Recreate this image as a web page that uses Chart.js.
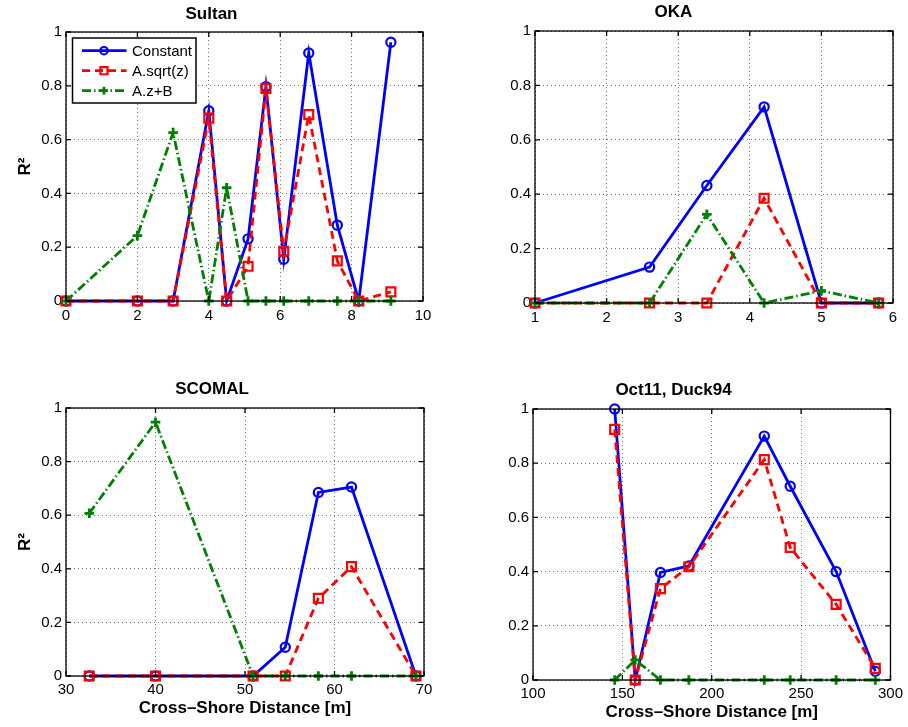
<!DOCTYPE html>
<html>
<head>
<meta charset="utf-8">
<script src="https://cdn.jsdelivr.net/npm/chart.js@4/dist/chart.umd.min.js"></script>
<style>
  body { margin: 0; background: #fff; }
  .panel { position: absolute; }
</style>
</head>
<body>
<div class="panel" style="left:0px;top:0px;width:454px;height:330px"><canvas id="sultan"></canvas></div>
<div class="panel" style="left:454px;top:0px;width:454px;height:330px"><canvas id="oka"></canvas></div>
<div class="panel" style="left:0px;top:360px;width:454px;height:367px"><canvas id="scomal"></canvas></div>
<div class="panel" style="left:454px;top:360px;width:454px;height:367px"><canvas id="duck"></canvas></div>
<script>
// series names
const seriesNames = ['Constant', 'A.sqrt(z)', 'A.z+B'];

// Sultan
const sultanX = [0, 2, 3, 4, 4.5, 5.1, 5.6, 6.1, 6.8, 7.6, 8.2, 9.1];
const sultanConst = [0, 0, 0, 0.707, 0, 0.231, 0.797, 0.155, 0.922, 0.282, 0, 0.962];
const sultanSqrt = [0, 0, 0, 0.68, 0, 0.129, 0.79, 0.185, 0.693, 0.149, 0, 0.034];
const sultanLin = [0, 0.243, 0.626, 0, 0.421, 0, 0, 0, 0, 0, 0, 0];
const sultanTicks = [0, 2, 4, 6, 8, 10];

// OKA
const okaX = [1, 2.6, 3.4, 4.2, 5.0, 5.8];
const okaConst = [0, 0.132, 0.432, 0.721, 0, 0];
const okaSqrt = [0, 0, 0, 0.385, 0, 0];
const okaLin = [0, 0, 0.326, 0, 0.045, 0];
const okaTicks = [1, 2, 3, 4, 5, 6];

// SCOMAL
const scomalX = [32.6, 40, 50.9, 54.5, 58.2, 61.9, 69.1];
const scomalConst = [0, 0, 0, 0.107, 0.685, 0.705, 0];
const scomalSqrt = [0, 0, 0, 0, 0.29, 0.408, 0];
const scomalLin = [0.607, 0.947, 0, 0, 0, 0, 0];
const scomalTicks = [30, 40, 50, 60, 70];

// Oct11, Duck94
const duckX = [145.7, 157.2, 171.3, 187.2, 229.4, 243.9, 269.6, 291.5];
const duckConst = [1.0, 0, 0.397, 0.421, 0.90, 0.715, 0.40, 0.032];
const duckSqrt = [0.925, 0, 0.337, 0.418, 0.813, 0.489, 0.279, 0.043];
const duckLin = [0, 0.074, 0, 0, 0, 0, 0, 0];
const duckTicks = [100, 150, 200, 250, 300];

const yTicks = [0, 0.2, 0.4, 0.6, 0.8, 1];

Chart.defaults.font.family = "'Liberation Sans', Arial, sans-serif";
Chart.defaults.font.size = 15;
Chart.defaults.color = '#000';

function pts(xs, ys) {
    return xs.map((x, i) => ({ x: x, y: ys[i] }));
}

// matlab-like axes box + inward ticks
const boxPlugin = {
    id: 'box',
    afterDatasetsDraw(chart) {
        const a = chart.chartArea;
        const ctx = chart.ctx;
        ctx.save();
        ctx.strokeStyle = '#000';
        ctx.lineWidth = 1.3;
        ctx.setLineDash([]);
        ctx.beginPath();
        chart.scales.x.ticks.forEach(t => {
            const px = chart.scales.x.getPixelForValue(t.value);
            ctx.moveTo(px, a.bottom); ctx.lineTo(px, a.bottom - 5);
            ctx.moveTo(px, a.top); ctx.lineTo(px, a.top + 5);
        });
        chart.scales.y.ticks.forEach(t => {
            const py = chart.scales.y.getPixelForValue(t.value);
            ctx.moveTo(a.left, py); ctx.lineTo(a.left + 5, py);
            ctx.moveTo(a.right, py); ctx.lineTo(a.right - 5, py);
        });
        ctx.stroke();
        ctx.strokeRect(a.left, a.top, a.right - a.left, a.bottom - a.top);
        ctx.restore();
    }
};

function drawMarker(ctx, style, x, y, r) {
    ctx.beginPath();
    if (style === 'circle') {
        ctx.arc(x, y, r, 0, Math.PI * 2);
    } else if (style === 'rect') {
        const s = Math.SQRT1_2 * r;
        ctx.rect(x - s, y - s, 2 * s, 2 * s);
    } else {
        ctx.moveTo(x - r, y); ctx.lineTo(x + r, y);
        ctx.moveTo(x, y - r); ctx.lineTo(x, y + r);
    }
    ctx.stroke();
}

// boxed legend inside the axes (Sultan only)
const boxLegend = {
    id: 'boxLegend',
    afterDraw(chart, args, opts) {
        if (!opts.show) return;
        const a = chart.chartArea;
        const ctx = chart.ctx;
        const left = a.left + 6.5, top = a.top + 6, w = 123.5, h = 65;
        ctx.save();
        ctx.fillStyle = '#fff';
        ctx.fillRect(left, top, w, h);
        ctx.strokeStyle = '#000';
        ctx.lineWidth = 1.5;
        ctx.strokeRect(left, top, w, h);
        chart.data.datasets.forEach((ds, i) => {
            const y = top + 12.7 + i * 20;
            ctx.strokeStyle = ds.borderColor;
            ctx.lineWidth = ds.borderWidth;
            ctx.setLineDash(ds.borderDash || []);
            ctx.beginPath();
            ctx.moveTo(left + 9.5, y);
            ctx.lineTo(left + 54, y);
            ctx.stroke();
            ctx.setLineDash([]);
            ctx.lineWidth = ds.pointBorderWidth;
            drawMarker(ctx, ds.pointStyle, left + 31.5, y, ds.pointRadius * 0.8);
            ctx.fillStyle = '#000';
            ctx.font = "15px 'Liberation Sans', Arial, sans-serif";
            ctx.textBaseline = 'middle';
            ctx.fillText(ds.label, left + 59.5, y + 1);
        });
        ctx.restore();
    }
};

function makeChart(id, cfg) {
    const datasets = [
        {
            label: seriesNames[0],
            data: pts(cfg.x, cfg.c),
            borderColor: '#0000ff',
            borderWidth: 2.8,
            pointStyle: 'circle',
            pointRadius: 4.6,
            pointBorderWidth: 2.2,
            pointBackgroundColor: 'rgba(0,0,0,0)',
            order: 3
        },
        {
            label: seriesNames[1],
            data: pts(cfg.x, cfg.s),
            borderColor: '#ff0000',
            borderWidth: 2.8,
            borderDash: [8, 5],
            pointStyle: 'rect',
            pointRadius: 6.3,
            pointBorderWidth: 2.2,
            pointBackgroundColor: 'rgba(0,0,0,0)',
            order: 2
        },
        {
            label: seriesNames[2],
            data: pts(cfg.x, cfg.l),
            borderColor: '#008000',
            borderWidth: 2.8,
            borderDash: [9, 3, 1.5, 3],
            pointStyle: 'cross',
            pointRadius: 4.8,
            pointBorderWidth: 2.8,
            pointBackgroundColor: 'rgba(0,0,0,0)',
            order: 1
        }
    ];
    datasets.forEach(d => {
        d.clip = false;
        d.tension = 0;
        d.fill = false;
        d.pointHoverRadius = d.pointRadius;
    });

    new Chart(document.getElementById(id), {
        type: 'line',
        data: { datasets: datasets },
        options: {
            responsive: true,
            maintainAspectRatio: false,
            animation: false,
            events: [],
            layout: {
                padding: { left: 0, right: cfg.padRight, top: 0, bottom: 0 }
            },
            plugins: {
                legend: { display: false },
                tooltip: { enabled: false },
                title: {
                    display: true,
                    text: cfg.title,
                    font: { size: 17, weight: 'bold', lineHeight: '20px' },
                    padding: { top: cfg.titleTop, bottom: cfg.titleBottom }
                },
                boxLegend: { show: !!cfg.legend }
            },
            scales: {
                x: {
                    type: 'linear',
                    min: cfg.xTicks[0],
                    max: cfg.xTicks[cfg.xTicks.length - 1],
                    afterBuildTicks: s => { s.ticks = cfg.xTicks.map(v => ({ value: v })); },
                    afterFit: s => { s.height = cfg.xHeight; },
                    ticks: { autoSkip: false, maxRotation: 0, padding: cfg.xTickPad, callback: v => String(v) },
                    grid: { color: 'rgba(0,0,0,0.55)', lineWidth: 1, drawTicks: false },
                    border: { display: false, dash: [1, 3] },
                    title: {
                        display: !!cfg.xTitle,
                        text: cfg.xTitle || '',
                        font: { size: 17, weight: 'bold', lineHeight: '20px' },
                        padding: { top: 0, bottom: cfg.xTitlePad || 0 }
                    }
                },
                y: {
                    min: 0,
                    max: 1,
                    afterBuildTicks: s => { s.ticks = yTicks.map(v => ({ value: v })); },
                    afterFit: s => { s.width = cfg.yWidth; },
                    ticks: { padding: 4, callback: v => String(v) },
                    grid: { color: 'rgba(0,0,0,0.55)', lineWidth: 1, drawTicks: false },
                    border: { display: false, dash: [1, 3] },
                    title: {
                        display: !!cfg.yTitle,
                        text: cfg.yTitle || '',
                        font: { size: 17, weight: 'bold', lineHeight: '20px' },
                        padding: { top: 15, bottom: 0 }
                    }
                }
            }
        },
        plugins: [boxPlugin, boxLegend]
    });
}

makeChart('sultan', {
    x: sultanX, c: sultanConst, s: sultanSqrt, l: sultanLin, xTicks: sultanTicks,
    title: 'Sultan', titleTop: 4, titleBottom: 8,
    yWidth: 66, padRight: 31, xHeight: 29, xTickPad: 6, yTitle: 'R²', legend: true
});
makeChart('oka', {
    x: okaX, c: okaConst, s: okaSqrt, l: okaLin, xTicks: okaTicks,
    title: 'OKA', titleTop: 2, titleBottom: 9,
    yWidth: 81, padRight: 15, xHeight: 27, xTickPad: 6
});
makeChart('scomal', {
    x: scomalX, c: scomalConst, s: scomalSqrt, l: scomalLin, xTicks: scomalTicks,
    title: 'SCOMAL', titleTop: 19, titleBottom: 9,
    yWidth: 66, padRight: 30, xHeight: 51, xTickPad: 5, yTitle: 'R²',
    xTitle: 'Cross\u2013Shore Distance [m]', xTitlePad: 9
});
makeChart('duck', {
    x: duckX, c: duckConst, s: duckSqrt, l: duckLin, xTicks: duckTicks,
    title: 'Oct11, Duck94', titleTop: 20, titleBottom: 9,
    yWidth: 79, padRight: 15, xHeight: 47, xTickPad: 5,
    xTitle: 'Cross\u2013Shore Distance [m]', xTitlePad: 5
});
</script>
</body>
</html>
